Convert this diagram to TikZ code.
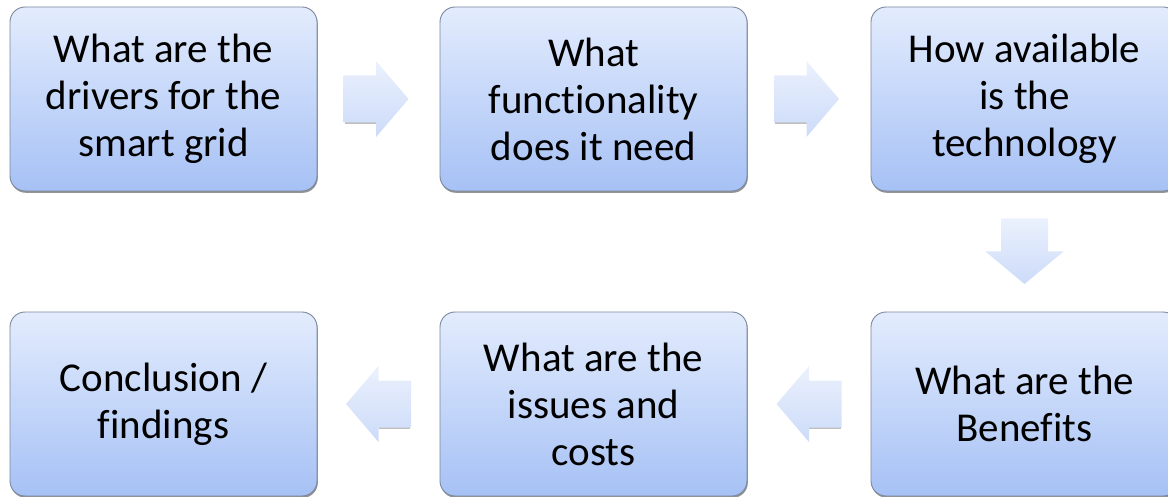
\documentclass[tikz,border=0pt]{standalone}
\usepackage{fontspec}
\setmainfont[Ligatures=NoCommon]{Carlito}
\usetikzlibrary{shadows}
\definecolor{boxtop}{HTML}{E3ECFD}
\definecolor{boxbot}{HTML}{A6C1F5}
\definecolor{boxline}{HTML}{7A879C}
\definecolor{arrtop}{HTML}{EBF1FD}
\definecolor{arrbot}{HTML}{CCDBF9}
\tikzset{
  stepbox/.style={rectangle, rounded corners=15pt, minimum width=307pt, minimum height=184pt,
    top color=boxtop, bottom color=boxbot, draw=boxline, line width=0.9pt,
    drop shadow={shadow xshift=0.8pt, shadow yshift=-1.8pt, fill=black!70, opacity=0.6},
    align=center, inner sep=0pt, font=\fontsize{41}{47}\selectfont, text=black},
  arrowfill/.style={top color=arrtop, bottom color=arrbot, draw=none},
  arrowshadow/.style={fill=black!25, draw=none}
}
\begin{document}
\begin{tikzpicture}[x=1pt,y=1pt]
\useasboundingbox (0,0) rectangle (1168,-497);
\clip (0,0) rectangle (1168,-497);
\node[stepbox] (b1) at (163.5,-99) {What are the\\drivers for the\\smart grid};
\node[stepbox] (b2) at (593.5,-99) {What\\functionality\\does it need};
\node[stepbox] (b3) at (1024.5,-99) {How available\\is the\\technology};
\node[stepbox] (b4) at (1024.5,-404) {What are the\\Benefits};
\node[stepbox] (b5) at (593.5,-404) {What are the\\issues and\\costs};
\node[stepbox] (b6) at (163.5,-404) {Conclusion /\\findings};
% arrow anchors
\path (b1.east) -- (b2.west) coordinate[pos=0.48] (a1);
\path (b2.east) -- (b3.west) coordinate[pos=0.48] (a2);
\path (b3.south) -- (b4.north) coordinate[pos=0.5] (a3);
\path (b4.west) -- (b5.east) coordinate[pos=0.5] (a4);
\path (b5.west) -- (b6.east) coordinate[pos=0.5] (a5);
% right arrows
\foreach \a in {a1,a2}{
  \fill[arrowshadow, shift={(\a)}] (-31.5,-22.5) -- (0,-22.5) -- (0,-25) -- (-31.5,-25) -- cycle;
  \shade[arrowfill, shift={(\a)}] (-32.5,23.5) -- (0,23.5) -- (0,38) -- (32.5,0) -- (0,-38) -- (0,-23.5) -- (-32.5,-23.5) -- cycle;
}
% left arrows
\foreach \a in {a4,a5}{
  \fill[arrowshadow, shift={(\a)}] (31.5,-22.5) -- (0,-22.5) -- (0,-25) -- (31.5,-25) -- cycle;
  \shade[arrowfill, shift={(\a)}] (32.5,23.5) -- (0,23.5) -- (0,38) -- (-32.5,0) -- (0,-38) -- (0,-23.5) -- (32.5,-23.5) -- cycle;
}
% down arrow
\shade[arrowfill, shift={(a3)}] (-23.5,33) -- (-23.5,0) -- (-39,0) -- (0,-32.5) -- (39,0) -- (23.5,0) -- (23.5,33) -- cycle;
\end{tikzpicture}
\end{document}
